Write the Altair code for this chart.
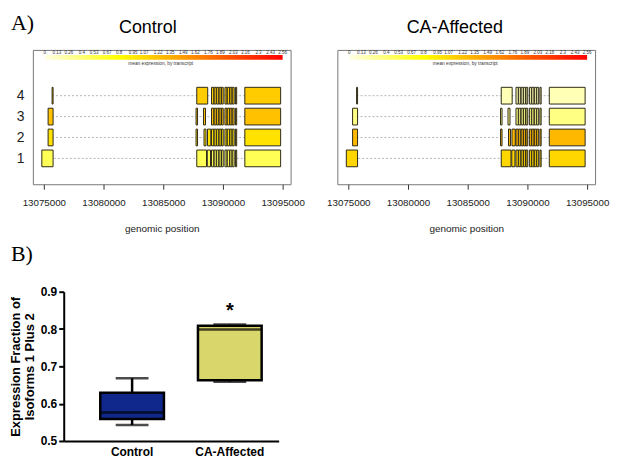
import altair as alt
import pandas as pd

# ---------------- Panel A: transcript models ----------------
TRANSCRIPTS = [1, 2, 3, 4]
FIRST_EXON = [(13074833, 13075775), (13075358, 13075775), (13075358, 13075775), (13075692, 13075775)]
MID_EXONS = [
    [(13087808, 13088625), (13088692, 13088958)],
    [(13087750, 13087875), (13088417, 13088583), (13088708, 13088983)],
    [(13087750, 13087875), (13088375, 13088542)],
    [(13087808, 13088725)],
]
SHARED_EXONS = [
    (13089042, 13089233), (13089267, 13089442), (13089475, 13089650), (13089683, 13089850),
    (13089883, 13090025), (13090167, 13090333), (13090367, 13090550), (13090583, 13090750),
    (13090783, 13090942), (13091050, 13091150),
]
LAST_EXON = (13091833, 13094833)
CONTROL_EXPR = [0.50, 1.00, 1.23, 1.15]
AFFECTED_EXPR = [1.08, 1.29, 0.34, 0.17]
PANEL_TITLES = ["Control", "CA-Affected"]
GENOMIC_TICKS = [13075000, 13080000, 13085000, 13090000, 13095000]
LEGEND_TICKS = [0, 0.13, 0.26, 0.4, 0.53, 0.67, 0.8, 0.95, 1.07, 1.22, 1.35, 1.49,
                1.62, 1.76, 1.89, 2.03, 2.16, 2.3, 2.43, 2.56]
LEGEND_LABELS = ["0", "0.13", "0.26", "0.4", "0.53", "0.67", "0.8", "0.95", "1.07", "1.22",
                 "1.35", "1.49", "1.62", "1.76", "1.89", "2.03", "2.16", "2.3", "2.43", "2.56"]
LEGEND_CAPTION = "mean expression, by transcript"
PANEL_LABELS = ["A)", "B)"]

# ---------------- Panel B: box plot ----------------
GROUPS = ["Control", "CA-Affected"]
MINS = [0.543, 0.659]
Q1S = [0.559, 0.663]
MEDIANS = [0.576, 0.799]
Q3S = [0.629, 0.809]
MAXS = [0.668, 0.812]
BOX_FILLS = ["#10288c", "#d9d66b"]
STAR_GROUP = ["CA-Affected"]
STAR_Y = [0.86]

SANS = "Liberation Sans"
SERIF = "Liberation Serif"
PW, PH = 259, 135

color_scale = alt.Scale(domain=[0, 0.8, 2.56], range=["#ffffe6", "#ffff00", "#ff0000"], interpolate="rgb")
gradient = alt.Gradient(
    gradient="linear",
    stops=[alt.GradientStop(offset=0, color="#ffffe6"),
           alt.GradientStop(offset=0.3125, color="#ffff00"),
           alt.GradientStop(offset=1, color="#ff0000")],
    x1=0, x2=1, y1=0, y2=0,
)


def gene_panel(title, expr, show_rows, title_x, label=None):
    ex_rows, in_rows = [], []
    for i, t in enumerate(TRANSCRIPTS):
        exons = [FIRST_EXON[i]] + MID_EXONS[i] + SHARED_EXONS + [LAST_EXON]
        for s, e in exons:
            ex_rows.append({"tx": t, "start": s, "end": e, "expr": expr[i]})
        in_rows.append({"tx": t, "start": min(s for s, _ in exons), "end": max(e for _, e in exons)})
    exon_df = pd.DataFrame(ex_rows)
    intron_df = pd.DataFrame(in_rows)

    xscale = alt.Scale(domain=[13074083, 13095667], nice=False, zero=False)
    yscale = alt.Scale(domain=[-0.238, 6.19], nice=False, zero=False)
    xaxis = alt.Axis(values=GENOMIC_TICKS, format="d", title="genomic position", domain=False, grid=False,
                     tickSize=5, tickColor="#333", labelFontSize=9.8, labelPadding=8, labelColor="#222",
                     titleFontSize=10, titleFontWeight="normal", titlePadding=17, titleColor="#222",
                     labelFont=SANS, titleFont=SANS)
    if show_rows:
        yaxis = alt.Axis(values=TRANSCRIPTS, format="d", title=None, domain=False, ticks=False, grid=False,
                         labelFontSize=14, labelPadding=9, labelColor="#222", labelFont=SANS)
    else:
        yaxis = None

    introns = alt.Chart(intron_df).mark_rule(color="#b4b4b4", strokeDash=[2, 2], strokeWidth=1).encode(
        x=alt.X("start:Q", scale=xscale, axis=xaxis),
        x2="end:Q",
        y=alt.Y("tx:Q", scale=yscale, axis=yaxis),
    )
    exons = alt.Chart(exon_df).transform_calculate(
        y0="datum.tx - 0.4", y1="datum.tx + 0.4"
    ).mark_rect(stroke="#2e2a18", strokeWidth=1).encode(
        x=alt.X("start:Q", scale=xscale, axis=xaxis),
        x2="end:Q",
        y=alt.Y("y0:Q", scale=yscale, axis=yaxis),
        y2="y1:Q",
        fill=alt.Fill("expr:Q", scale=color_scale, legend=None),
    )
    data_layer = alt.layer(introns, exons)

    lscale = alt.Scale(domain=[-0.1285, 2.6456], nice=False, zero=False)
    grad = alt.Chart(pd.DataFrame({"lo": [LEGEND_TICKS[0]], "hi": [LEGEND_TICKS[-1]]})).mark_rect(
        fill=gradient).encode(
        x=alt.X("lo:Q", scale=lscale, axis=None), x2="hi:Q",
        y=alt.value(5), y2=alt.value(10),
    )
    ticks = alt.Chart(pd.DataFrame({"v": LEGEND_TICKS, "lab": LEGEND_LABELS})).mark_text(
        fontSize=4.5, font=SANS, color="#333", baseline="middle", align="center").encode(
        x=alt.X("v:Q", scale=lscale, axis=None), y=alt.value(2.8), text="lab:N",
    )
    legend_layer = alt.layer(grad, ticks)

    cap = alt.Chart(pd.DataFrame({"t": [LEGEND_CAPTION]})).mark_text(
        fontSize=4.8, font=SANS, color="#333", baseline="middle", align="center").encode(
        x=alt.value(PW / 2 - 1), y=alt.value(14.5), text="t:N")
    ttl = alt.Chart(pd.DataFrame({"t": [title]})).mark_text(
        fontSize=18, font=SANS, color="black", baseline="middle", align="center").encode(
        x=alt.value(title_x), y=alt.value(-22.5), text="t:N")
    layers = [data_layer, legend_layer, cap, ttl]
    if label:
        lab = alt.Chart(pd.DataFrame({"t": [label]})).mark_text(
            fontSize=22, font=SERIF, color="black", baseline="middle", align="left").encode(
            x=alt.value(-22), y=alt.value(-27), text="t:N")
        layers.append(lab)
    return alt.layer(*layers).resolve_scale(x="independent").properties(
        width=PW, height=PH, view=alt.ViewBackground(stroke="#777", strokeWidth=1))


left = gene_panel(PANEL_TITLES[0], CONTROL_EXPR, True, 115.5, PANEL_LABELS[0])
right = gene_panel(PANEL_TITLES[1], AFFECTED_EXPR, False, 118)
row1 = alt.hconcat(left, right, spacing=47, bounds="flush")

# ---------------- Box plot ----------------
# view starts at the same x as the gene panel; axis sits 31px inside it
AX_SHIFT = 31
BW = 247
box_df = pd.DataFrame({"group": GROUPS, "lo": MINS, "q1": Q1S, "med": MEDIANS, "q3": Q3S, "hi": MAXS})
xs = alt.Scale(domain=GROUPS, range=[AX_SHIFT, BW], paddingInner=0, paddingOuter=0.1, align=1)
xax = alt.Axis(title=None, labelAngle=0, ticks=False, labelPadding=6, labelFontSize=12, labelFontWeight="bold",
               labelColor="black", labelFont=SANS, domainColor="black", domainWidth=2, grid=False)
ys = alt.Scale(domain=[0.5, 0.9], nice=False, zero=False)
yax = alt.Axis(values=[0.5, 0.6, 0.7, 0.8, 0.9], format=".1f", offset=-AX_SHIFT,
               title=["Expression Fraction of", "Isoforms 1 Plus 2"], titleFontSize=13, titleFontWeight="bold",
               titleColor="black", titleFont=SANS, titleLineHeight=14, titlePadding=4,
               labelFontSize=12, labelFontWeight="bold", labelColor="black", labelFont=SANS, labelPadding=2,
               domainColor="black", domainWidth=2, tickColor="black", tickWidth=2, tickSize=5, grid=False)

base = alt.Chart(box_df)
X = alt.X("group:N", scale=xs, axis=xax, sort=GROUPS)
whisk = base.mark_rule(color="black", strokeWidth=2.5).encode(x=X, y=alt.Y("lo:Q", scale=ys, axis=yax), y2="hi:Q")
cap_lo = base.mark_tick(size=33, thickness=2.5, color="black").encode(x=X, y=alt.Y("lo:Q", scale=ys, axis=yax))
cap_hi = base.mark_tick(size=33, thickness=2.5, color="black").encode(x=X, y=alt.Y("hi:Q", scale=ys, axis=yax))
boxes = base.mark_bar(size=64, stroke="black", strokeWidth=2.5).encode(
    x=X, y=alt.Y("q1:Q", scale=ys, axis=yax), y2="q3:Q",
    color=alt.Color("group:N", scale=alt.Scale(domain=GROUPS, range=BOX_FILLS), legend=None))
meds = base.mark_tick(size=64, thickness=2.5, color="black").encode(x=X, y=alt.Y("med:Q", scale=ys, axis=yax))
star = alt.Chart(pd.DataFrame({"group": STAR_GROUP, "y": STAR_Y})).mark_text(
    text="*", fontSize=20, fontWeight="bold", font=SANS, color="black", baseline="middle", dy=4).encode(
    x=X, y=alt.Y("y:Q", scale=ys, axis=yax))
blab = alt.Chart(pd.DataFrame({"t": [PANEL_LABELS[1]]})).mark_text(
    fontSize=22, font=SERIF, color="black", baseline="middle", align="left").encode(
    x=alt.value(-22), y=alt.value(-38), text="t:N")
boxplot = alt.layer(whisk, cap_lo, cap_hi, boxes, meds, star, blab).properties(
    width=BW, height=150, view=alt.ViewBackground(stroke="transparent"))

chart = alt.concat(row1, boxplot, columns=1, spacing=7).properties(
    padding={"left": 0, "top": 2, "right": 0, "bottom": 0}
).configure(font=SANS).configure_view(stroke="transparent")

chart.save("out.html", embed_options={"renderer": "svg", "actions": False})
